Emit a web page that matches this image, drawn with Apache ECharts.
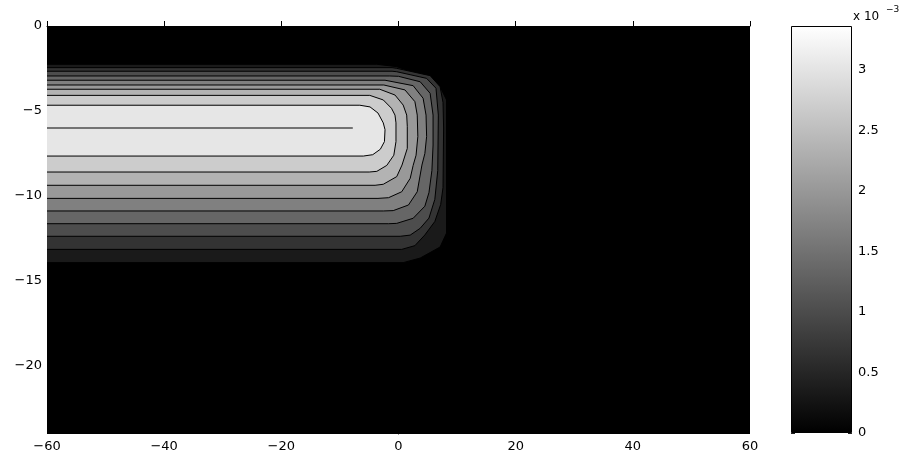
<!DOCTYPE html>
<html><head><meta charset="utf-8">
<script src="https://cdn.jsdelivr.net/npm/echarts@6/dist/echarts.min.js"></script>
<style>html,body{margin:0;padding:0;background:#fff}#c{width:906px;height:458px}</style>
</head><body><div id="c"></div>
<script>
// ---- data ----
var xTicks = [-60, -40, -20, 0, 20, 40, 60];
var yTicks = [0, -5, -10, -15, -20];
var cbTicks = [0, 0.5, 1, 1.5, 2, 2.5, 3];          // colorbar ticks (x 10^-3)
var cbMax = 3.36;                                      // colorbar top (x 10^-3)
// contour levels (x 10^-3), lowest first
var levelValues = [0.336, 0.672, 1.008, 1.344, 1.68, 2.016, 2.352, 2.688, 3.024, 3.36];
// closed contour outlines [x, y] (left edge at x = -60), one per level
var contour1 = [[-60,-2.25],[-3.7,-2.25],[-0.3,-2.39],[4.8,-2.98],[7.1,-3.57],[8.2,-4.35],[8.2,-12.18],[7.1,-13.0],[3.7,-13.65],[0.8,-13.92],[-60,-13.92]];
var contour2 = [[-60,-2.45],[-1.1,-2.45],[-0.3,-2.49],[5.4,-2.92],[7.1,-3.57],[7.6,-4.5],[7.7,-6.0],[7.6,-9.5],[7.2,-10.5],[6.2,-11.5],[4.5,-12.29],[2.8,-12.92],[0.55,-13.14],[-60,-13.14]];
var contour3 = [[-60,-2.66],[-1.1,-2.66],[-0.3,-2.69],[4.8,-3.08],[6.4,-3.66],[6.8,-5.24],[6.7,-8.5],[6.2,-10.2],[5.2,-11.3],[3.7,-11.9],[2.0,-12.3],[0.3,-12.37],[-60,-12.37]];
var contour4 = [[-60,-2.94],[-1.5,-2.94],[0.0,-2.96],[3.7,-3.28],[5.4,-3.96],[5.9,-5.24],[5.9,-7.0],[5.7,-8.5],[5.2,-9.8],[4.5,-10.6],[2.5,-11.31],[-0.3,-11.61],[-1.7,-11.63],[-60,-11.63]];
var contour5 = [[-60,-3.19],[-2.3,-3.19],[2.5,-3.51],[4.2,-4.25],[4.7,-5.24],[4.8,-6.5],[4.5,-7.5],[4.0,-8.18],[3.2,-9.75],[1.7,-10.53],[-0.9,-10.86],[-2.6,-10.88],[-60,-10.88]];
var contour6 = [[-60,-3.47],[-2.5,-3.47],[1.1,-3.76],[2.8,-4.45],[3.2,-5.24],[3.3,-6.5],[3.0,-7.6],[2.5,-8.2],[2.0,-8.96],[0.55,-9.75],[-1.7,-10.1],[-3.5,-10.14],[-60,-10.14]];
var contour7 = [[-60,-3.72],[-3.2,-3.72],[-0.6,-4.06],[0.8,-4.65],[1.4,-5.24],[1.5,-5.9],[1.5,-7.2],[0.6,-8.18],[-0.3,-8.86],[-2.6,-9.31],[-4.0,-9.37],[-60,-9.37]];
var contour8 = [[-60,-4.08],[-4.9,-4.08],[-2.6,-4.35],[-1.2,-4.84],[-0.6,-5.24],[-0.43,-5.7],[-0.43,-6.8],[-0.8,-7.6],[-2.0,-8.2],[-3.7,-8.55],[-5.0,-8.59],[-60,-8.59]];
var contour9 = [[-60,-4.66],[-6.6,-4.66],[-4.86,-4.76],[-3.5,-5.12],[-2.6,-5.7],[-2.3,-6.1],[-2.4,-6.8],[-3.1,-7.25],[-4.4,-7.57],[-6.0,-7.65],[-60,-7.65]];
// highest level (ridge line)
var peakLine = [[-60,-6.0],[-7.8,-6.0]];

var contours = [contour1, contour2, contour3, contour4, contour5, contour6, contour7, contour8, contour9];
var contourData = contours.map(function (c, i) { return [i, levelValues[i]]; });

var FONT = 'DejaVu Sans';
function fmtMinus(v) { return v < 0 ? '\u2212' + Math.abs(v) : String(v); }

var chart = echarts.init(document.getElementById('c'), null, { renderer: 'canvas' });
chart.setOption({
  animation: false,
  backgroundColor: '#ffffff',
  grid: [
    { left: 47, top: 26, width: 703, height: 408, show: true, backgroundColor: '#000000', borderWidth: 0 },
    { left: 791, top: 26, width: 61, height: 407 }
  ],
  visualMap: {
    show: false, type: 'continuous', min: 0, max: cbMax, dimension: 1, seriesIndex: 0,
    inRange: { color: ['#000000', '#ffffff'] }
  },
  xAxis: [
    { gridIndex: 0, type: 'value', min: -60, max: 60, interval: 20,
      axisLine: { show: true, lineStyle: { color: '#000', width: 1 } },
      axisTick: { show: true, inside: true, length: 5, lineStyle: { color: '#000' } },
      axisLabel: { formatter: fmtMinus, fontFamily: FONT, fontSize: 13, color: '#000', margin: 6 },
      splitLine: { show: false } },
    { gridIndex: 1, type: 'category', data: ['cb'], boundaryGap: true,
      axisLine: { show: false }, axisTick: { show: false }, axisLabel: { show: false }, splitLine: { show: false } }
  ],
  yAxis: [
    { gridIndex: 0, type: 'value', min: -24, max: 0,
      axisLine: { show: true, lineStyle: { color: '#000', width: 1 } },
      axisTick: { show: true, inside: true, length: 5, customValues: yTicks, lineStyle: { color: '#000' } },
      axisLabel: { customValues: yTicks, formatter: fmtMinus, fontFamily: FONT, fontSize: 13, color: '#000', margin: 5 },
      splitLine: { show: false } },
    { gridIndex: 1, type: 'value', min: 0, max: cbMax, position: 'right',
      axisLine: { show: false },
      axisTick: { show: true, inside: true, length: 4, customValues: cbTicks, lineStyle: { color: '#222' } },
      axisLabel: { customValues: cbTicks, fontFamily: FONT, fontSize: 13, color: '#000', margin: 6 },
      splitLine: { show: false } },
    { gridIndex: 1, type: 'value', min: 0, max: cbMax, position: 'left',
      axisLine: { show: false },
      axisTick: { show: true, inside: true, length: 4, customValues: cbTicks, lineStyle: { color: '#222' } },
      axisLabel: { show: false },
      splitLine: { show: false } }
  ],
  series: [
    { type: 'custom', xAxisIndex: 0, yAxisIndex: 0, coordinateSystem: 'cartesian2d',
      encode: { x: 0, y: 1 }, data: contourData, clip: true, z: 2,
      renderItem: function (params, api) {
        var c = contours[api.value(0)];
        var pts = c.map(function (p) { return api.coord(p); });
        return { type: 'group', children: [
          { type: 'polygon', shape: { points: pts }, style: { fill: api.visual('color'), stroke: null } },
          { type: 'polyline', shape: { points: pts },
            style: { stroke: '#000', lineWidth: 1, fill: null } }
        ] };
      } },
    { type: 'line', xAxisIndex: 0, yAxisIndex: 0, data: peakLine, symbol: 'none', z: 3,
      lineStyle: { color: '#000', width: 1 } },
    { type: 'bar', xAxisIndex: 1, yAxisIndex: 1, data: [cbMax], barWidth: '100%', z: 1,
      itemStyle: { borderColor: '#000', borderWidth: 1,
        color: { type: 'linear', x: 0, y: 0, x2: 0, y2: 1,
          colorStops: [{ offset: 0, color: '#ffffff' }, { offset: 1, color: '#000000' }] } } }
  ],
  graphic: [
    { type: 'text', left: 853, top: 11, style: { text: 'x 10', font: '12px "DejaVu Sans"', fill: '#000' } },
    { type: 'text', left: 886, top: 5, style: { text: '\u22123', font: '9px "DejaVu Sans"', fill: '#000' } }
  ]
});
</script>
</body></html>
